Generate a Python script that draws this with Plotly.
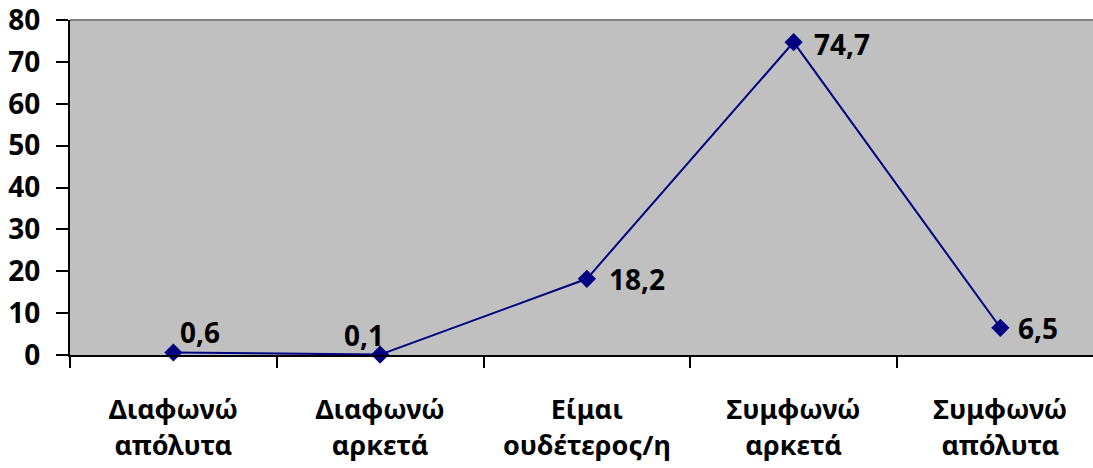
import plotly.graph_objects as go

categories = ["Διαφωνώ<br>απόλυτα", "Διαφωνώ<br>αρκετά", "Είμαι<br>ουδέτερος/η",
              "Συμφωνώ<br>αρκετά", "Συμφωνώ<br>απόλυτα"]
values = [0.6, 0.1, 18.2, 74.7, 6.5]
y_ticks = [0, 10, 20, 30, 40, 50, 60, 70, 80]

FONT = "Noto Sans"
NAVY = "#000080"

fig = go.Figure()
fig.add_trace(go.Scatter(
    x=categories, y=values, mode="lines+markers",
    line=dict(color=NAVY, width=2),
    marker=dict(symbol="diamond", size=14, color=NAVY),
    cliponaxis=False, hoverinfo="skip",
))

# data labels
label_offsets = [(27, 20), (-16, 20), (50, 0), (48, -2), (38, 0)]
for c, v, (dx, dy) in zip(categories, values, label_offsets):
    fig.add_annotation(x=c, y=v, text=f"{v:.1f}".replace(".", ","), showarrow=False,
                       xshift=dx, yshift=dy,
                       font=dict(family=FONT, size=28, color="black", weight="bold"))

fig.add_shape(type="line", xref="paper", yref="paper", x0=0, x1=1, y0=1, y1=1,
              line=dict(color="#808080", width=2))

fig.update_layout(
    width=1093, height=468,
    margin=dict(l=70, r=0, t=20, b=113, autoexpand=False),
    paper_bgcolor="white", plot_bgcolor="#C0C0C0",
    showlegend=False,
    font=dict(family=FONT, size=27, color="black", weight="bold"),
    xaxis=dict(type="category", range=[-0.5, 4.448], tickson="boundaries",
               ticks="outside", ticklen=11, tickwidth=2, tickcolor="black",
               showline=True, linecolor="black", linewidth=2, showgrid=False,
               automargin=False, ticklabeloverflow="allow",
               ticklabelstandoff=30, tickfont=dict(family=FONT, size=27, weight="bold")),
    yaxis=dict(range=[0, 80], tickvals=y_ticks, ticks="outside", ticklen=12,
               tickwidth=2, tickcolor="black", showline=True, linecolor="black",
               linewidth=2, showgrid=False, zeroline=False, ticklabelstandoff=10,
               automargin=False, ticklabeloverflow="allow",
               tickfont=dict(family=FONT, size=28, weight="bold")),
)

fig.write_html("out.html", config={"displayModeBar": False},
               post_script="document.body.style.margin='0';document.body.style.overflow='hidden';")
